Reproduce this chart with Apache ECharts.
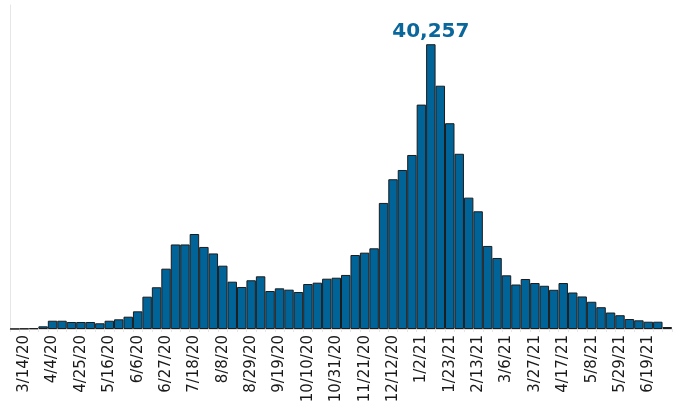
<!DOCTYPE html>
<html>
<head>
<meta charset="utf-8">
<script src="https://cdn.jsdelivr.net/npm/echarts@6/dist/echarts.min.js"></script>
<style>
  html, body { margin: 0; padding: 0; background: #fff; }
  #chart { width: 681px; height: 408px; }
</style>
</head>
<body>
<div id="chart"></div>
<script>
// weekly cases, week ending
let weeks = [
  '3/7/20','3/14/20','3/21/20','3/28/20','4/4/20','4/11/20','4/18/20','4/25/20',
  '5/2/20','5/9/20','5/16/20','5/23/20','5/30/20','6/6/20','6/13/20','6/20/20',
  '6/27/20','7/4/20','7/11/20','7/18/20','7/25/20','8/1/20','8/8/20','8/15/20',
  '8/22/20','8/29/20','9/5/20','9/12/20','9/19/20','9/26/20','10/3/20','10/10/20',
  '10/17/20','10/24/20','10/31/20','11/7/20','11/14/20','11/21/20','11/28/20','12/5/20',
  '12/12/20','12/19/20','12/26/20','1/2/21','1/9/21','1/16/21','1/23/21','1/30/21',
  '2/6/21','2/13/21','2/20/21','2/27/21','3/6/21','3/13/21','3/20/21','3/27/21',
  '4/3/21','4/10/21','4/17/21','4/24/21','5/1/21','5/8/21','5/15/21','5/22/21',
  '5/29/21','6/5/21','6/12/21','6/19/21','6/26/21','7/3/21'
];

let cases = [
  20, 60, 100, 380, 1170, 1170, 990, 990,
  990, 810, 1170, 1370, 1740, 2500, 4570, 5900,
  8530, 11950, 11950, 13430, 11600, 10680, 8950, 6690,
  5940, 6890, 7450, 5370, 5750, 5560, 5230, 6360,
  6550, 7110, 7250, 7640, 10460, 10790, 11410, 17820,
  21170, 22480, 24600, 31720, 40257, 34390, 29090, 24770,
  18570, 16640, 11740, 10040, 7590, 6290, 7070, 6500,
  6110, 5540, 6500, 5160, 4600, 3850, 3080, 2330,
  1950, 1410, 1230, 1030, 1030, 280
];

let peak = Math.max(...cases);
let barColor = '#006499';

let chart = echarts.init(document.getElementById('chart'), null, {renderer: 'canvas'});

let option = {
  animation: false,
  grid: { left: 10, right: 9, top: 5, bottom: 79, containLabel: false },
  xAxis: {
    type: 'category',
    data: weeks,
    axisLine: { lineStyle: { color: '#dddddd', width: 1 } },
    axisTick: { show: true, interval: 0, length: 3, lineStyle: { color: '#e6e6e6' } },
    axisLabel: {
      interval: (i) => i % 3 === 1,
      rotate: 90,
      margin: 6,
      fontFamily: 'DejaVu Sans',
      fontSize: 15,
      color: '#1a1a1a'
    }
  },
  yAxis: {
    type: 'value',
    min: 0,
    max: 45800,
    splitLine: { show: false },
    axisLabel: { show: false },
    axisTick: { show: false },
    axisLine: { show: true, lineStyle: { color: '#e6e6e6', width: 1 } }
  },
  series: [{
    type: 'bar',
    data: cases.map(v => v === peak ? {
      value: v,
      label: {
        show: true,
        position: 'top',
        distance: 2,
        formatter: (p) => p.value.toLocaleString('en-US'),
        fontFamily: 'DejaVu Sans',
        fontWeight: 'bold',
        fontSize: 20,
        color: '#0a679c'
      }
    } : v),
    barCategoryGap: 0,
    itemStyle: { color: barColor, borderColor: '#1c1c1c', borderWidth: 1 }
  }]
};

chart.setOption(option);
</script>
</body>
</html>
